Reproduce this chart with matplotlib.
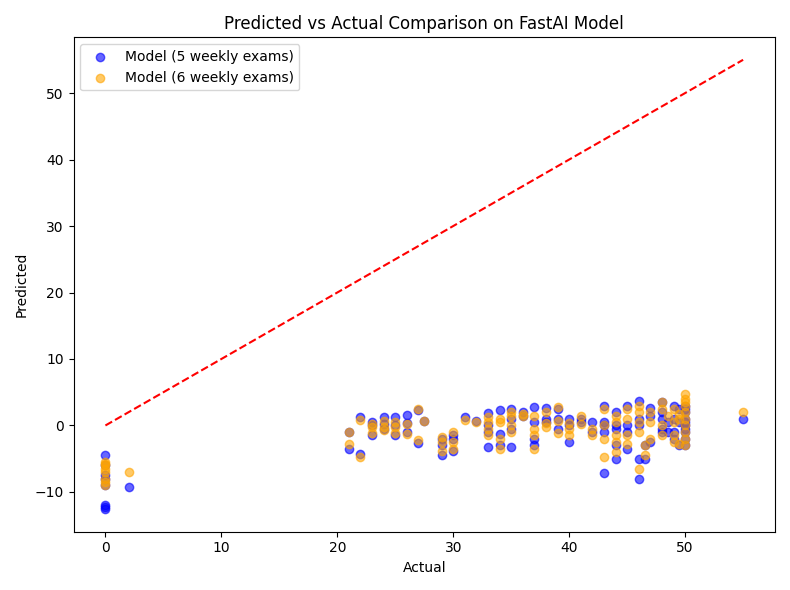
import numpy as np
import matplotlib
matplotlib.use('Agg')
import matplotlib.pyplot as plt

# actual value -> predictions (5 exams), predictions (6 exams)
actual_5 = []
pred_5 = []
actual_6 = []
pred_6 = []

groups = [
    (0, [-4.5, -6, -7.5, -8, -9, -12, -12.3, -12.6], [-5.5, -6, -6.5, -7, -8, -8.5, -9, -5.8]),
    (2, [-9.2], [-7]),
    (21, [-3.5, -1], [-2.8, -1]),
    (22, [1.2, -4.3], [0.8, -4.8]),
    (23, [0.5, -1.5, 0], [-0.3, -1.2, 0.2]),
    (24, [1.2, 0.2, -0.5], [0.7, -0.7, -0.2]),
    (25, [1.3, 0, -1.5], [0.5, -1.2, -0.3]),
    (26, [1.6, 0.3, -1], [0.2, -1.3]),
    (27, [2.3, -2.6], [2.5, -2.2]),
    (27.5, [0.7], [0.6]),
    (29, [-4.5, -3, -2], [-3.8, -2.5, -1.8]),
    (30, [-3.8, -1.5, -2], [-3.5, -1, -2.5]),
    (31, [1.3], [0.8]),
    (32, [0.7], [0.5]),
    (33, [1.9, -3.2, 0, -1], [1.2, -1.5, -0.5, 0.5]),
    (34, [2.4, -1.3, -3], [0.5, -2, -3.5, 1]),
    (35, [2.5, 1, -0.5, -3.3], [2, 1.5, -1, 0]),
    (36, [2, 1.5], [1.5, 1.8]),
    (37, [2.8, -2, -3, 0.5], [1.5, -0.5, -3.5, -1.5]),
    (38, [2.7, 1, 0.5], [2, 0.3, -0.2]),
    (39, [2.5, -0.5, 1], [2.8, -1.2, 0.6]),
    (40, [0, -2.5, 1], [-0.5, 0.3, -1.5]),
    (41, [1, 0.5], [1.5, 0.2]),
    (42, [-1, 0.5], [-1.5, -0.5]),
    (43, [-7.2, 3, 0, -1, 0.5], [-4.8, 2.5, -2, 0]),
    (44, [-5, -3, 2, 0, -0.5], [-4, -2.5, 1.5, 0.5, -1.5]),
    (45, [3, 0, -1, -3.5], [2.5, -1.5, -2.8, 1]),
    (46, [-8, 3.7, -5, 1, 0], [-6.5, 3, 2, -1, 0.5]),
    (46.5, [-5, -3], [-4.5, -3]),
    (47, [2.7, 1.5, -2.5], [2, -2, 0.5]),
    (48, [3.5, 1, -1, -0.5, 2], [3.5, 2.5, -1.5, 0]),
    (48.5, [-1, 0.5], [1.5]),
    (49, [3, 1, -2, -1], [2.5, -1.5, 0.5, -2.5]),
    (49.5, [2.5, -3, 0.5], [1, -2.8, 1.8]),
    (50, [3, 2, 1, 0, -1, -2, -3, 2.5, 0.5, -0.5], [4.8, 4, 3, 2, 1, 0, -1, -2, -3, 3.5]),
    (55, [1], [2]),
]
for a, p5, p6 in groups:
    actual_5 += [a] * len(p5); pred_5 += p5
    actual_6 += [a] * len(p6); pred_6 += p6

fig, ax = plt.subplots(figsize=(7.9, 5.9), dpi=100)
ax.scatter(actual_5, pred_5, color='blue', alpha=0.6, label='Model (5 weekly exams)')
ax.scatter(actual_6, pred_6, color='orange', alpha=0.6, label='Model (6 weekly exams)')
lim = [0, 55]
ax.plot(lim, lim, 'r--')
ax.set_xlabel('Actual')
ax.set_ylabel('Predicted')
ax.set_title('Predicted vs Actual Comparison on FastAI Model')
ax.legend(loc='upper left')
fig.tight_layout()
fig.savefig('out.png')
